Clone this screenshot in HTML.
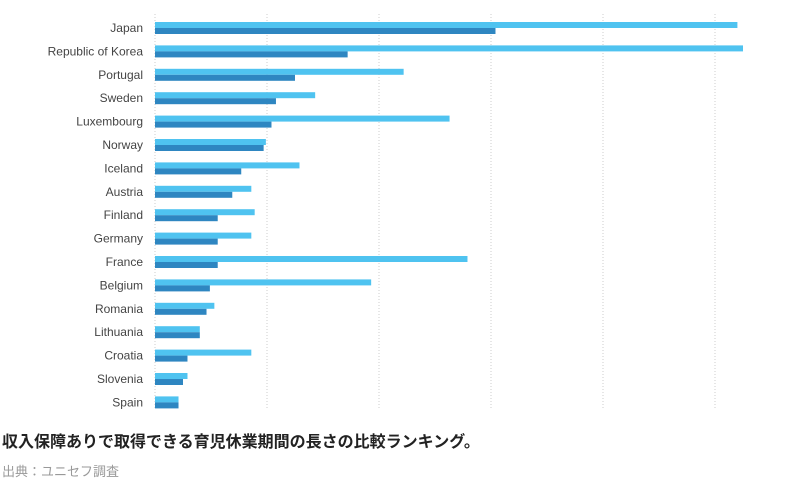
<!DOCTYPE html>
<html><head><meta charset="utf-8"><style>
body{margin:0;background:#fff;width:800px;height:483px;overflow:hidden;font-family:"Liberation Sans","Noto Sans CJK JP",sans-serif}
</style></head><body>
<svg id="chart" width="800" height="420" style="position:absolute;left:0;top:0"></svg>
<div style="position:absolute;left:2px;top:428px;font-size:16px;color:#222;font-weight:bold">収入保障ありで取得できる育児休業期間の長さの比較ランキング。</div>
<div style="position:absolute;left:2px;top:461px;font-size:13px;color:#999">出典：ユニセフ調査</div>
<script>
const categories=["Japan","Republic of Korea","Portugal","Sweden","Luxembourg","Norway","Iceland","Austria","Finland","Germany","France","Belgium","Romania","Lithuania","Croatia","Slovenia","Spain"];
const lightValues=[52.0,52.5,22.2,14.3,26.3,9.9,12.9,8.6,8.9,8.6,27.9,19.3,5.3,4.0,8.6,2.9,2.1];
const darkValues=[30.4,17.2,12.5,10.8,10.4,9.7,7.7,6.9,5.6,5.6,5.6,4.9,4.6,4.0,2.9,2.5,2.1];
const gridTicks=[0,10,20,30,40,50];
const NS="http://www.w3.org/2000/svg";
const svg=document.getElementById('chart');
const x=v=>155+v*11.2;
const y=i=>22+i*23.4;
function mk(t,a){const e=document.createElementNS(NS,t);for(const k in a)e.setAttribute(k,a[k]);svg.appendChild(e);return e;}
gridTicks.forEach(t=>{
 const l=mk('line',{x1:x(t),x2:x(t),y1:14,y2:410,stroke:'#ccc','stroke-dasharray':'1,2'});
 
 
});
categories.forEach((c,i)=>{
 const tx=mk('text',{x:143,y:y(i)+10,'text-anchor':'end','font-size':12,fill:'#444'});
 tx.textContent=c;
 
 
 const b1=mk('rect',{x:x(0),y:y(i),width:x(lightValues[i])-x(0),height:6,fill:'#4fc3f0'});
 
 
 const b2=mk('rect',{x:x(0),y:y(i)+6,width:x(darkValues[i])-x(0),height:6,fill:'#2e86c1'});
 
 
});
</script>
</body></html>
